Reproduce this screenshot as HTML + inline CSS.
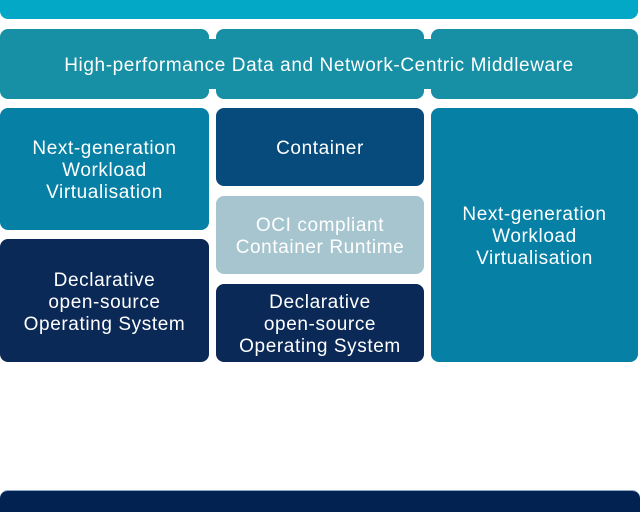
<!DOCTYPE html>
<html>
<head>
<meta charset="utf-8">
<style>
html,body{margin:0;padding:0;background:#fff;width:640px;height:512px;overflow:hidden;}
body{position:relative;font-family:"Liberation Sans",sans-serif;}
.b{position:absolute;box-sizing:border-box;padding-top:4px;border-radius:8px;color:#fff;display:flex;align-items:center;justify-content:center;text-align:center;font-size:19px;line-height:22px;letter-spacing:0.6px;}
.c{position:absolute;}
</style>
</head>
<body>
<div class="b" style="left:0;top:-10px;width:638px;height:29px;background:#02a8c6;"></div>

<div class="b" style="left:0;top:29px;width:209px;height:70px;background:#178fa4;"></div>
<div class="b" style="left:216px;top:29px;width:208px;height:70px;background:#178fa4;"></div>
<div class="b" style="left:431px;top:29px;width:207px;height:70px;background:#178fa4;"></div>
<div class="c" style="left:205px;top:39px;width:30px;height:50px;background:#178fa4;"></div>
<div class="c" style="left:420px;top:39px;width:30px;height:50px;background:#178fa4;"></div>
<div class="b" style="left:0;top:29px;width:638px;height:70px;background:transparent;">High-performance Data and Network-Centric Middleware</div>

<div class="b" style="left:0;top:108px;width:209px;height:122px;background:#0780a5;">Next-generation<br>Workload<br>Virtualisation</div>
<div class="b" style="left:0;top:239px;width:209px;height:123px;background:#0b2957;">Declarative<br>open-source<br>Operating System</div>

<div class="b" style="left:216px;top:108px;width:208px;height:78px;background:#074b7c;">Container</div>
<div class="b" style="left:216px;top:196px;width:208px;height:78px;background:#a7c5cf;">OCI compliant<br>Container Runtime</div>
<div class="b" style="left:216px;top:284px;width:208px;height:78px;background:#0b2957;">Declarative<br>open-source<br>Operating System</div>

<div class="b" style="left:431px;top:108px;width:207px;height:254px;background:#0780a5;">Next-generation<br>Workload<br>Virtualisation</div>

<div class="b" style="left:0;top:490px;width:640px;height:32px;background:#022352;border-top:1px solid #8aa8c8;"></div>
</body>
</html>
